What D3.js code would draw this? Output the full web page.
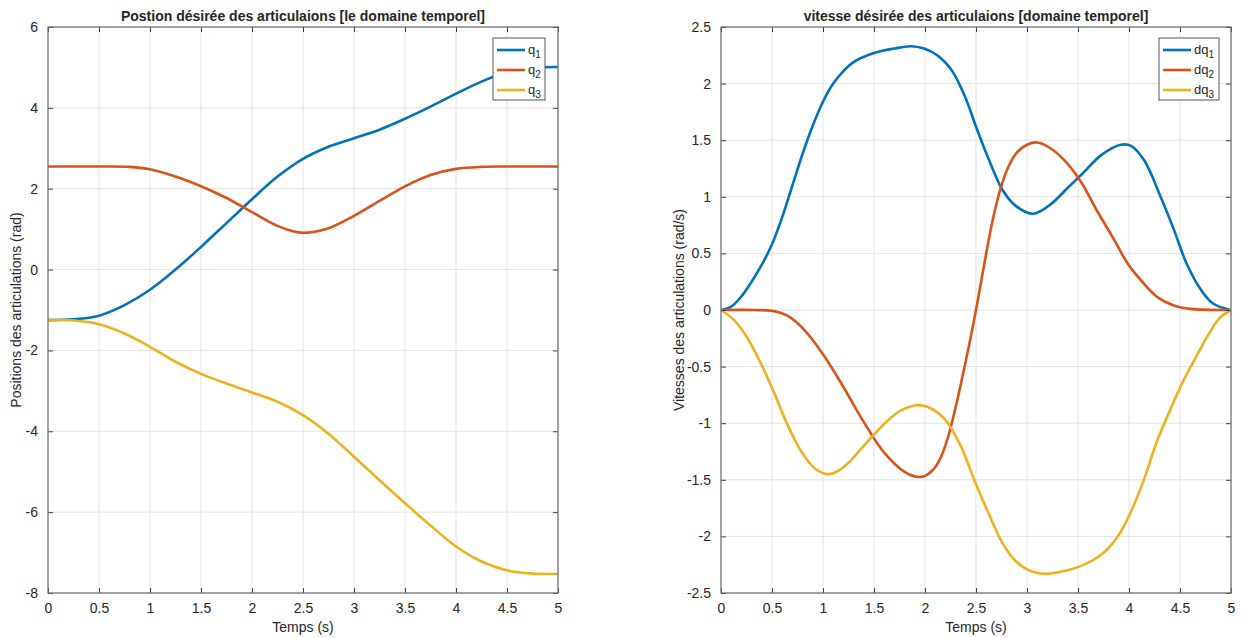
<!DOCTYPE html>
<html>
<head>
<meta charset="utf-8">
<script src="https://cdn.jsdelivr.net/npm/d3@7"></script>
<style>
  body { margin: 0; background: #fff; }
  text { font-family: "Liberation Sans", Arial, sans-serif; fill: #262626; }
</style>
</head>
<body>
<svg id="fig" width="1242" height="638"></svg>
<script>
// tick values
var timeTicks = [0, 0.5, 1, 1.5, 2, 2.5, 3, 3.5, 4, 4.5, 5];
var posTicks = [-8, -6, -4, -2, 0, 2, 4, 6];
var velTicks = [-2.5, -2, -1.5, -1, -0.5, 0, 0.5, 1, 1.5, 2, 2.5];

// positions [t, rad]
var q1 = [[0,-1.25],[0.25,-1.23],[0.5,-1.14],[0.75,-0.88],[1.0,-0.5],[1.25,0.0],[1.5,0.56],[1.75,1.15],
  [2.0,1.74],[2.25,2.3],[2.5,2.74],[2.75,3.04],[3.0,3.25],[3.25,3.46],[3.5,3.73],[3.75,4.03],
  [4.0,4.35],[4.25,4.65],[4.5,4.88],[4.75,4.99],[5,5.01]];
var q2 = [[0,2.55],[0.5,2.55],[0.8,2.54],[1.0,2.48],[1.25,2.3],[1.5,2.06],[1.75,1.77],[2.0,1.42],
  [2.25,1.08],[2.4,0.95],[2.5,0.91],[2.6,0.93],[2.75,1.02],[3.0,1.33],[3.25,1.7],[3.5,2.06],[3.75,2.34],
  [4.0,2.49],[4.25,2.54],[4.5,2.55],[5,2.55]];
var q3 = [[0,-1.25],[0.25,-1.26],[0.5,-1.35],[0.75,-1.58],[1.0,-1.91],[1.25,-2.28],[1.5,-2.58],
  [1.75,-2.82],[2.0,-3.04],[2.25,-3.27],[2.5,-3.6],[2.75,-4.06],[3.0,-4.63],[3.25,-5.21],[3.5,-5.78],
  [3.75,-6.33],[4.0,-6.85],[4.25,-7.22],[4.5,-7.44],[4.75,-7.52],[5,-7.53]];

// velocities [t, rad/s]
var dq1 = [[0,0],[0.1,0.03],[0.2,0.12],[0.3,0.25],[0.4,0.4],[0.5,0.58],[0.6,0.82],[0.7,1.1],[0.8,1.38],
  [0.9,1.63],[1.0,1.84],[1.1,2.0],[1.2,2.11],[1.3,2.19],[1.5,2.27],[1.7,2.31],[1.86,2.33],[1.99,2.31],
  [2.12,2.25],[2.26,2.12],[2.39,1.89],[2.5,1.62],[2.63,1.32],[2.76,1.06],[2.89,0.92],[3.06,0.85],
  [3.24,0.94],[3.4,1.08],[3.55,1.21],[3.73,1.37],[3.92,1.46],[4.02,1.45],[4.15,1.32],[4.31,1.0],
  [4.44,0.71],[4.56,0.42],[4.69,0.2],[4.82,0.06],[5,0]];
var dq2 = [[0,0],[0.33,0],[0.52,-0.01],[0.65,-0.05],[0.8,-0.16],[1.0,-0.39],[1.2,-0.68],[1.4,-0.99],
  [1.6,-1.26],[1.8,-1.43],[1.93,-1.475],[2.0,-1.465],[2.07,-1.42],[2.14,-1.33],[2.22,-1.14],[2.3,-0.86],
  [2.4,-0.45],[2.5,0.0],[2.58,0.4],[2.66,0.78],[2.74,1.07],[2.82,1.27],[2.9,1.39],[3.0,1.46],[3.1,1.48],
  [3.21,1.44],[3.37,1.32],[3.53,1.13],[3.69,0.87],[3.855,0.62],[3.98,0.42],[4.11,0.27],
  [4.27,0.12],[4.44,0.04],[4.6,0.01],[5,0]];
var dq3 = [[0,0],[0.13,-0.09],[0.26,-0.25],[0.39,-0.47],[0.52,-0.73],[0.65,-1.01],[0.78,-1.24],[0.92,-1.4],
  [1.05,-1.45],[1.15,-1.42],[1.25,-1.35],[1.37,-1.23],[1.5,-1.1],[1.63,-0.98],[1.77,-0.885],[1.93,-0.84],
  [2.06,-0.87],[2.2,-0.97],[2.35,-1.2],[2.5,-1.54],[2.63,-1.81],[2.76,-2.06],[2.89,-2.22],
  [3.02,-2.3],[3.18,-2.33],[3.34,-2.31],[3.53,-2.26],[3.73,-2.16],[3.89,-2.0],[4.02,-1.78],[4.15,-1.49],
  [4.27,-1.17],[4.4,-0.89],[4.53,-0.63],[4.66,-0.41],[4.79,-0.2],[4.89,-0.07],[5,0]];

var colors = ["#0072BD", "#D95319", "#EDB120"];

var svg = d3.select("#fig");

function panel(cfg) {
  var x = d3.scaleLinear().domain([0, 5]).range([cfg.left, cfg.left + 510]);
  var y = d3.scaleLinear().domain(cfg.yDomain).range([593, 27]);
  var g = svg.append("g");

  // grid
  g.selectAll(".gx").data(timeTicks).enter().append("line")
    .attr("x1", function(d){ return x(d); }).attr("x2", function(d){ return x(d); })
    .attr("y1", 27).attr("y2", 593)
    .attr("stroke", "#e3e3e3").attr("stroke-width", 1);
  g.selectAll(".gy").data(cfg.yTicks).enter().append("line")
    .attr("y1", function(d){ return y(d); }).attr("y2", function(d){ return y(d); })
    .attr("x1", cfg.left).attr("x2", cfg.left + 510)
    .attr("stroke", "#e3e3e3").attr("stroke-width", 1);

  // curves
  var line = d3.line()
    .x(function(d){ return x(d[0]); })
    .y(function(d){ return y(d[1]); })
    .curve(d3.curveCatmullRom.alpha(0.5));
  cfg.series.forEach(function(s, i){
    g.append("path").attr("d", line(s))
      .attr("fill", "none").attr("stroke", colors[i]).attr("stroke-width", 2.6)
      .attr("stroke-linejoin", "round");
  });

  // axes: ticks inside, mirrored on top and right
  var fmt = function(d){ return String(d); };
  g.append("g").attr("transform", "translate(0,593)")
    .call(d3.axisBottom(x).tickValues(timeTicks).tickFormat(fmt).tickSizeInner(-5).tickSizeOuter(0).tickPadding(10));
  g.append("g").attr("transform", "translate(0,27)")
    .call(d3.axisTop(x).tickValues(timeTicks).tickFormat("").tickSizeInner(-5).tickSizeOuter(0));
  g.append("g").attr("transform", "translate(" + cfg.left + ",0)")
    .call(d3.axisLeft(y).tickValues(cfg.yTicks).tickFormat(fmt).tickSizeInner(-5).tickSizeOuter(0).tickPadding(10));
  g.append("g").attr("transform", "translate(" + (cfg.left + 510) + ",0)")
    .call(d3.axisRight(y).tickValues(cfg.yTicks).tickFormat("").tickSizeInner(-5).tickSizeOuter(0));
  g.selectAll(".domain").remove();
  g.selectAll(".tick line").attr("stroke", "#404040");
  g.selectAll(".tick text").attr("font-size", 14).attr("fill", "#262626")
    .style("font-family", "'Liberation Sans', Arial, sans-serif");

  g.append("rect").attr("x", cfg.left).attr("y", 27).attr("width", 510).attr("height", 566)
    .attr("fill", "none").attr("stroke", "#6e6e6e").attr("stroke-width", 1.2);

  // titles
  g.append("text").attr("x", cfg.left + 255).attr("y", 21).attr("text-anchor", "middle")
    .attr("font-size", 14).attr("font-weight", "bold").text(cfg.title);
  g.append("text").attr("x", cfg.left + 255).attr("y", 632).attr("text-anchor", "middle")
    .attr("font-size", 14).text("Temps (s)");
  g.append("text").attr("transform", "translate(" + cfg.ylabX + ",310) rotate(-90)")
    .attr("text-anchor", "middle").attr("font-size", 14).text(cfg.ylab);

  // legend
  var lg = g.append("g").attr("transform", "translate(" + cfg.legX + ",38)");
  lg.append("rect").attr("width", cfg.legW).attr("height", 62)
    .attr("fill", "#fff").attr("stroke", "#555").attr("stroke-width", 1);
  cfg.names.forEach(function(n, i){
    var yy = 12 + i * 20;
    lg.append("line").attr("x1", 4).attr("x2", 32).attr("y1", yy).attr("y2", yy)
      .attr("stroke", colors[i]).attr("stroke-width", 2.6);
    var t = lg.append("text").attr("x", 35).attr("y", yy + 4).attr("font-size", 13);
    t.append("tspan").text(n);
    t.append("tspan").attr("dy", 4).attr("font-size", 10).text(i + 1);
  });
}

panel({
  left: 48, yDomain: [-8, 6], yTicks: posTicks, series: [q1, q2, q3],
  title: "Postion désirée des articulaions [le domaine temporel]",
  ylab: "Positions des articulations (rad)", ylabX: 21,
  names: ["q", "q", "q"], legX: 493, legW: 52
});
panel({
  left: 721, yDomain: [-2.5, 2.5], yTicks: velTicks, series: [dq1, dq2, dq3],
  title: "vitesse désirée des articulaions [domaine temporel]",
  ylab: "Vitesses des articulations (rad/s)", ylabX: 684,
  names: ["dq", "dq", "dq"], legX: 1159, legW: 60
});
</script>
</body>
</html>
